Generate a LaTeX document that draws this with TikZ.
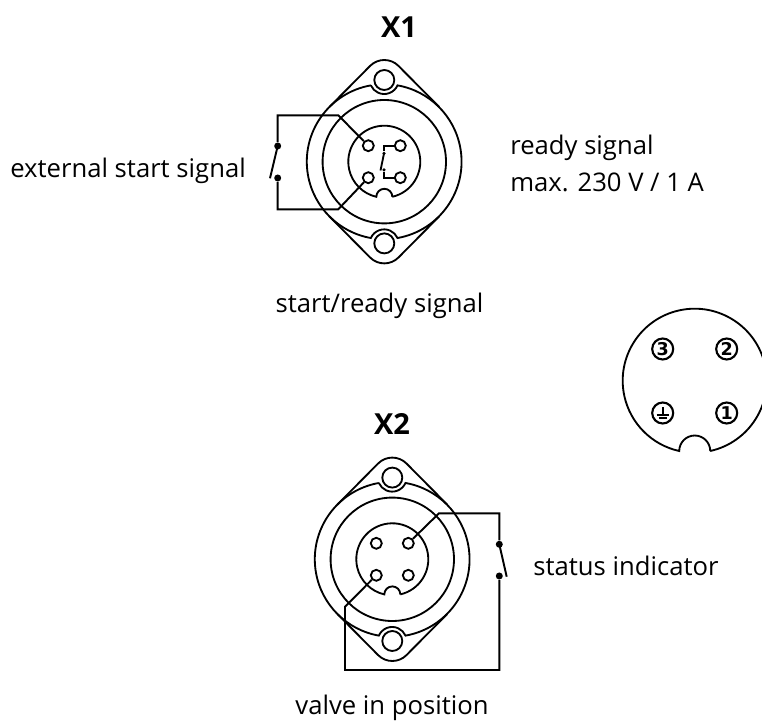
\documentclass[tikz,border=0pt]{standalone}
\usepackage{fontspec}
\setmainfont{Open Sans}
\newfontfamily\digitfont{DejaVu Sans}
\tikzset{
  hairline/.style={line width=1.05pt},
  wire/.style={line width=1.1pt},
  pinhole/.style={draw,circle,hairline,inner sep=0pt,minimum size=0.22cm},
  mounthole/.style={draw,circle,hairline,inner sep=0pt,minimum size=0.40cm},
  contact/.style={fill,circle,inner sep=0pt,minimum size=0.14cm},
  smallcontact/.style={fill,circle,inner sep=0pt,minimum size=0.07cm},
  caption/.style={font=\fontsize{14.6}{17}\selectfont,inner sep=0pt},
  heading/.style={font=\fontsize{16.5}{19}\selectfont\bfseries,inner sep=0pt},
  pinlabel/.style={draw,circle,line width=1.2pt,inner sep=0pt,minimum size=0.42cm,font=\digitfont\bfseries\fontsize{10}{11}\selectfont},
  socket/.pic={
    % flange
    \draw [hairline] (45:77.5) -- ($(0,81.7)+(45:20)$) arc (45:135:20) -- (135:77.5);
    \draw [hairline] (-45:77.5) -- ($(0,-81.7)+(-45:20)$) arc (-45:-135:20) -- (-135:77.5);
    % body ring
    \draw [hairline] (100:77.5) arc (100:260:77.5) arc (156:24:14.6) arc (-80:80:77.5) arc (-24:-156:14.6);
    \draw [hairline] (0,0) circle (61.7);
    \draw [hairline] (-77.2:36) arc (-77.2:257.2:36) arc (180:0:8);
    \node [mounthole] (holeT) at (0,81.7) {};
    \node [mounthole] (holeB) at (0,-81.7) {};
    \node [pinhole] (pinTL) at (-16,16) {};
    \node [pinhole] (pinTR) at (16,16) {};
    \node [pinhole] (pinBL) at (-16,-16) {};
    \node [pinhole] (pinBR) at (16,-16) {};
  }
}
\usetikzlibrary{calc}
\begin{document}
\begin{tikzpicture}[x=0.02cm,y=0.02cm]
\useasboundingbox (0,0) rectangle (762,724);
\clip (0,0) rectangle (762,724);

% X1
\node [heading] (titleA) at (399,697) {X1};
\pic (xa) at (384.3,562.3) {socket};
\node [contact] (swAtop) at (277.7,578) {};
\node [contact] (swAbot) at (277.7,546) {};
\coordinate (swAend) at (270,545.7);
\coordinate (bendAa) at (338.3,608.7);
\coordinate (bendAb) at (277.7,608.7);
\coordinate (bendAc) at (338.3,514.7);
\coordinate (bendAd) at (277.7,514.7);
\draw [wire] (xapinTL) -- (bendAa) -- (bendAb) -- (swAtop);
\draw [wire] (xapinBL) -- (bendAc) -- (bendAd) -- (swAbot);
\draw [wire] (swAtop.center) -- (swAend);
% internal contact
\node [smallcontact] (intAtop) at (384,570.5) {};
\node [smallcontact] (intAbot) at (384,554) {};
\coordinate (intAend) at (380.5,553.5);
\draw [wire] (xapinTR) -| (intAtop);
\draw [wire] (xapinBR) -| (intAbot);
\draw [hairline] (intAtop.center) -- (intAend);

\node [caption,anchor=west] (extstart) at (10,553) {external start signal};
\node [caption,anchor=west] (readya) at (510,576) {ready signal};
\node [caption,anchor=west] (readyb) at (510,542) {max. 230 V / 1 A};
\node [caption] (startready) at (379.5,418) {start/ready signal};

% pin view
\draw [hairline] ($(694.7,343.3)+(-77.6:72)$) arc (-77.6:257.6:72) arc (180:0:15.5);
\node [pinlabel] (lblc) at (662.7,375) {3};
\node [pinlabel] (lblb) at (726.7,375) {2};
\node [pinlabel] (lbla) at (726.7,311) {1};
\node [pinlabel] (lble) at (662.7,311) {};
\draw [line width=1.1pt] (662.7,317) -- (662.7,309);
\draw [line width=1.5pt] (656.5,309) -- (669,309);
\draw [line width=1.2pt] (658.5,306) -- (667,306);

% X2
\node [heading] (titleB) at (392,300) {X2};
\pic (xb) at (392.3,164.7) {socket};
\node [contact] (swBtop) at (499.3,179.7) {};
\node [contact] (swBbot) at (499.3,148) {};
\coordinate (swBend) at (506.7,147.3);
\coordinate (bendBa) at (439,210.7);
\coordinate (bendBb) at (499.3,210.7);
\coordinate (bendBc) at (499.3,54);
\coordinate (bendBd) at (345,54);
\coordinate (bendBe) at (345,117.3);
\draw [wire] (xbpinTR) -- (bendBa) -- (bendBb) -- (swBtop);
\draw [wire] (swBbot) -- (bendBc) -- (bendBd) -- (bendBe) -- (xbpinBL);
\draw [wire] (swBtop.center) -- (swBend);

\node [caption,anchor=west] (status) at (533,158) {status indicator};
\node [caption] (valve) at (392,16) {valve in position};
\end{tikzpicture}
\end{document}
